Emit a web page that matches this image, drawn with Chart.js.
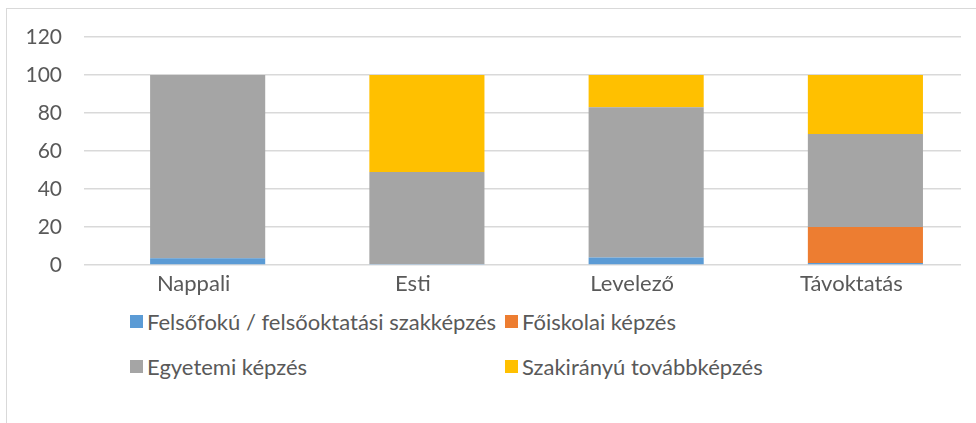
<!DOCTYPE html>
<html>
<head>
<meta charset="utf-8">
<script src="https://cdn.jsdelivr.net/npm/chart.js@4/dist/chart.umd.min.js"></script>
<style>
    body { margin: 0; background: #fff; width: 976px; height: 423px; overflow: hidden; position: relative; font-family: Lato, "Open Sans", sans-serif; }
    #frame { position: absolute; left: 6px; top: 8px; width: 1100px; height: 600px; border: 1px solid #d9d9d9; }
    #wrap { position: absolute; left: 0; top: 0; width: 976px; height: 300px; }
    #legend { position: absolute; left: 130px; top: 309px; display: grid; grid-template-columns: 375px 300px; row-gap: 21px; color: #595959; font-size: 22px; }
    #legend div { display: flex; align-items: center; height: 24px; white-space: nowrap; }
    #legend span { display: inline-block; width: 13px; height: 13px; margin-right: 4px; }
</style>
</head>
<body>
<div id="frame"></div>
<div id="wrap"><canvas id="bar-chart"></canvas></div>
<div id="legend"></div>
<script>
var categories = ["Nappali", "Esti", "Levelező", "Távoktatás"];
var seriesNames = ["Felsőfokú / felsőoktatási szakképzés", "Főiskolai képzés", "Egyetemi képzés", "Szakirányú továbbképzés"];
var felsofoku = [3.5, 0.5, 4, 1];
var foiskolai = [0, 0, 0, 19];
var egyetemi = [96.5, 48.5, 79, 49];
var szakiranyu = [0, 51, 17, 31];
var yTicks = [0, 20, 40, 60, 80, 100, 120];
var colors = ["#5b9bd5", "#ed7d31", "#a5a5a5", "#ffc000"];

var values = [felsofoku, foiskolai, egyetemi, szakiranyu];
// bars sit a bit right of the category labels in the original
var barShift = 0.064;

new Chart(document.getElementById("bar-chart"), {
    type: 'bar',
    data: {
        labels: categories,
        datasets: seriesNames.map(function (name, i) {
            return {
                label: name,
                data: values[i].map(function (v, j) { return { x: j, y: v }; }),
                xAxisID: 'xb',
                backgroundColor: colors[i],
                borderWidth: 0,
                categoryPercentage: 1,
                barPercentage: 0.525
            };
        })
    },
    options: {
        responsive: true,
        maintainAspectRatio: false,
        animation: false,
        layout: { padding: { left: 7, right: 15, top: 37, bottom: 0 } },
        plugins: {
            legend: { display: false },
            tooltip: { enabled: false }
        },
        scales: {
            x: {
                type: 'category',
                grid: { display: false },
                border: { display: false },
                ticks: { color: "#595959", font: { family: "Lato", size: 22 }, padding: -2 },
                afterFit: function (s) { s.height = 35; }
            },
            xb: {
                type: 'linear',
                stacked: true,
                display: false,
                offset: false,
                min: -0.5 - barShift,
                max: categories.length - 0.5 - barShift,
                afterBuildTicks: function (s) { s.ticks = categories.map(function (c, j) { return { value: j }; }); }
            },
            y: {
                stacked: true,
                min: 0,
                max: 120,
                afterBuildTicks: function (s) { s.ticks = yTicks.map(function (v) { return { value: v }; }); },
                grid: { color: "#d9d9d9", lineWidth: 1.5, drawTicks: false },
                border: { display: false },
                ticks: { color: "#595959", font: { family: "Lato", size: 21 }, padding: 22 },
                afterFit: function (s) { s.width = 77; }
            }
        }
    }
});

var legend = document.getElementById("legend");
seriesNames.forEach(function (name, i) {
    var item = document.createElement("div");
    item.innerHTML = '<span style="background:' + colors[i] + '"></span>' + name;
    legend.appendChild(item);
});
</script>
</body>
</html>
